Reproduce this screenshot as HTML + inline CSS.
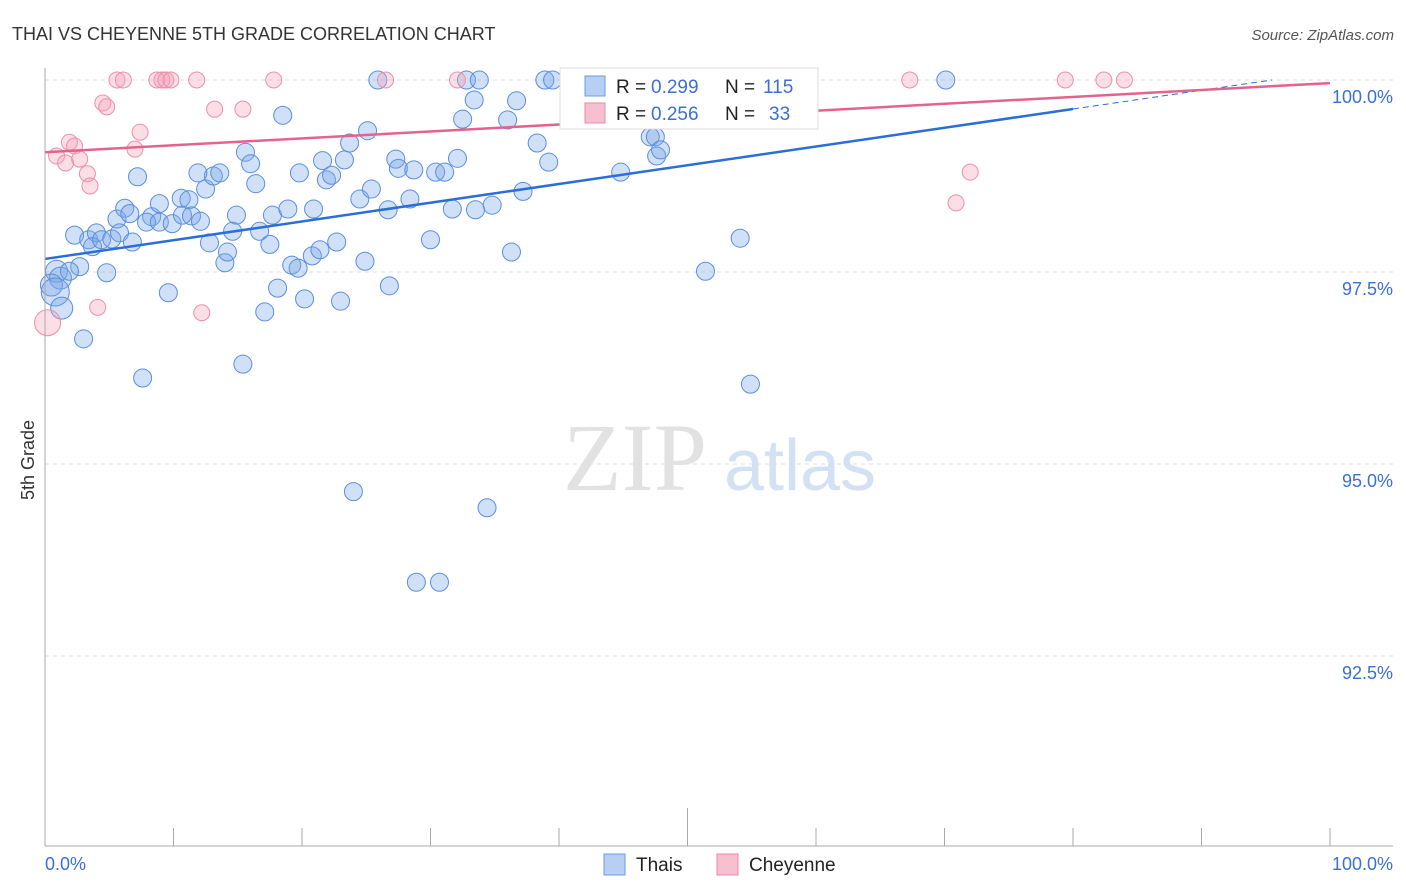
<!DOCTYPE html>
<html><head><meta charset="utf-8"><style>
body{margin:0;background:#fff;font-family:"Liberation Sans",sans-serif;}
</style></head><body>
<svg id="c" width="1406" height="892" style="display:block">
<text x="12" y="40" font-size="18" fill="#333">THAI VS CHEYENNE 5TH GRADE CORRELATION CHART</text>
<text x="1394" y="40" font-size="15" fill="#555" font-style="italic" text-anchor="end">Source: ZipAtlas.com</text>
<text x="34" y="460" font-size="18" fill="#333" transform="rotate(-90 34 460)" text-anchor="middle">5th Grade</text>
<g><text x="635" y="490" font-size="96" fill="#e2e2e2" font-family="Liberation Serif,serif" text-anchor="middle">ZIP</text><text x="800" y="490" font-size="72" fill="#d3e1f5" text-anchor="middle">atlas</text></g>
<g id="grid"></g><g id="marks"></g><g id="lines"></g>
<line x1="45" y1="68" x2="45" y2="846" stroke="#aaa"/>
<line x1="45" y1="846" x2="1393" y2="846" stroke="#aaa"/>
<g id="xt"></g>
<text x="45" y="870" font-size="18" fill="#3a6fd8">0.0%</text>
<text x="1393" y="870" font-size="18" fill="#3a6fd8" text-anchor="end">100.0%</text>
<g>
<rect x="560" y="68" width="258" height="61" fill="#fff" stroke="#ddd"/>
<rect x="585" y="76" width="20" height="20" fill="#b6cff2" stroke="#6b9be0"/>
<text x="616" y="93" font-size="19" fill="#222">R = </text><text x="651" y="93" font-size="19" fill="#3a6fd8">0.299</text>
<text x="725" y="93" font-size="19" fill="#222">N = </text><text x="763" y="93" font-size="19" fill="#3a6fd8">115</text>
<rect x="585" y="103" width="20" height="20" fill="#f7c0d0" stroke="#e88aa8"/>
<text x="616" y="120" font-size="19" fill="#222">R = </text><text x="651" y="120" font-size="19" fill="#3a6fd8">0.256</text>
<text x="725" y="120" font-size="19" fill="#222">N = </text><text x="769" y="120" font-size="19" fill="#3a6fd8">33</text>
</g>
<g><rect x="604" y="854" width="21" height="21" fill="#b6cff2" stroke="#6b9be0"/><text x="636" y="871" font-size="19" fill="#222">Thais</text></g>
<g><rect x="717" y="854" width="21" height="21" fill="#f7c0d0" stroke="#e88aa8"/><text x="749" y="871" font-size="19" fill="#222">Cheyenne</text></g>
</svg>
<script>
const thaiX=[0.9,1.2,0.5,0.8,1.3,3.0,2.3,3.4,4.0,3.7,4.4,5.2,4.8,2.7,1.9,5.6,6.2,6.6,5.8,6.8,7.2,7.6,8.3,7.9,8.9,8.9,9.9,9.6,10.7,10.6,11.2,11.4,12.1,12.5,12.8,13.1,11.9,13.6,14.0,14.2,14.9,14.6,15.4,15.6,16.0,16.4,16.7,17.5,17.7,18.1,17.1,18.5,18.9,19.2,19.7,19.8,20.2,20.9,20.8,21.4,21.6,21.9,22.3,22.7,23.0,23.3,23.7,24.0,24.5,24.9,25.1,25.4,25.9,26.7,26.8,27.3,27.5,28.4,28.7,28.9,30.0,30.4,30.7,31.1,31.7,32.1,32.5,32.8,33.4,33.5,33.8,34.4,34.8,36.0,36.3,36.7,37.2,38.3,38.9,39.2,39.5,41.5,44.8,47.1,47.5,47.6,47.9,51.4,54.1,54.9,70.1];
const thaiY=[97.51,97.42,97.33,97.24,97.03,96.63,97.98,97.92,98.01,97.83,97.92,97.93,97.49,97.57,97.51,98.19,98.33,98.26,98.01,97.89,98.74,96.12,98.22,98.15,98.15,98.39,98.13,97.23,98.24,98.46,98.44,98.23,98.16,98.58,97.88,98.75,98.79,98.79,97.62,97.76,98.24,98.03,96.30,99.06,98.91,98.65,98.03,97.86,98.24,97.29,96.98,99.54,98.32,97.59,97.55,98.79,97.15,98.32,97.71,97.79,98.95,98.70,98.76,97.89,97.12,98.96,99.18,94.64,98.45,97.64,99.34,98.58,100,98.31,97.32,98.97,98.85,98.45,98.83,93.46,97.92,98.80,93.46,98.80,98.32,98.98,99.49,100,99.74,98.31,100,94.43,98.37,99.48,97.76,99.73,98.55,99.18,100,98.93,100,100,98.80,99.26,99.26,99.01,99.09,97.51,97.94,96.04,100];
const cheyX=[0.2,0.9,1.6,1.9,2.3,2.7,3.3,3.5,4.1,4.5,4.8,5.6,6.1,7.0,7.4,8.7,9.1,9.4,9.8,11.8,12.2,13.2,15.4,17.8,26.5,32.1,67.3,70.9,72.0,79.4,82.4,84.0];
const cheyY=[96.84,99.01,98.92,99.19,99.14,98.97,98.78,98.62,97.04,99.70,99.65,100,100,99.10,99.32,100,100,100,100,100,96.97,99.62,99.62,100,100,100,100,98.40,98.80,100,100,100];
const thaiFit=[97.67,100.11];
const cheyFit=[99.06,99.96];
const yTicks=[100,97.5,95,92.5];
const yTickLabels=["100.0%","97.5%","95.0%","92.5%"];
const xs=v=>45+v*12.85, ys=v=>80+(100-v)*76.8;
const NS="http://www.w3.org/2000/svg";
function mk(p,t,a){const e=document.createElementNS(NS,t);for(const k in a)e.setAttribute(k,a[k]);p.appendChild(e);return e;}
const grid=document.getElementById('grid');
yTicks.forEach((v,i)=>{
 const l=mk(grid,'line',{x1:45,x2:1393,y1:ys(v),y2:ys(v),stroke:'#ddd','stroke-dasharray':'4,4'});
 
 
 const t=mk(grid,'text',{x:1393,y:ys(v)+23,'font-size':18,fill:'#3a6fd8','text-anchor':'end'});
 t.textContent=yTickLabels[i];
 
 
});
const xt=document.getElementById('xt');
for(let i=0;i<=10;i++){
 const l=mk(xt,'line',{x1:xs(i*10),x2:xs(i*10),y1:i==5?808:828,y2:846,stroke:'#aaa'});
 
 
}
const marks=document.getElementById('marks');
thaiX.forEach((x,i)=>{
 const c=mk(marks,'circle',{cx:xs(x),cy:ys(thaiY[i]),r:i<5?(i==3?14:11):9,fill:'rgba(120,165,230,0.35)',stroke:'#5a8ee0','stroke-width':1});
 
 
});
cheyX.forEach((x,i)=>{
 const c=mk(marks,'circle',{cx:xs(x),cy:ys(cheyY[i]),r:i==0?13:8,fill:'rgba(245,160,185,0.35)',stroke:'#ee8eab','stroke-width':1});
 
 
});
const lines=document.getElementById('lines');
const ty=v=>thaiFit[0]+(thaiFit[1]-thaiFit[0])*v/100;
const bl=mk(lines,'line',{x1:xs(0),y1:ys(ty(0)),x2:xs(80),y2:ys(ty(80)),stroke:'#2a6ed8','stroke-width':2.5});


const bd=mk(lines,'line',{x1:xs(80),y1:ys(ty(80)),x2:xs(95.5),y2:ys(ty(95.5)),stroke:'#2a6ed8','stroke-width':1,'stroke-dasharray':'6,4'});


const pl=mk(lines,'line',{x1:xs(0),y1:ys(cheyFit[0]),x2:xs(100),y2:ys(cheyFit[1]),stroke:'#e4628e','stroke-width':2.5});


</script>
</body></html>
